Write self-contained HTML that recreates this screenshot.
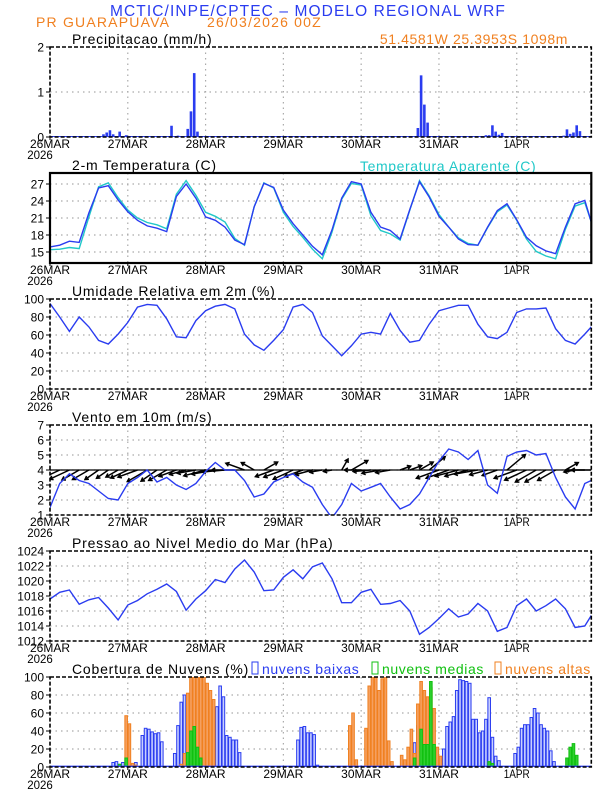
<!DOCTYPE html>
<html><head><meta charset="utf-8"><style>
html,body{margin:0;padding:0;background:#fff;}
svg{display:block;font-family:"Liberation Sans",sans-serif;}
</style></head><body>
<svg id="c" width="612" height="792" viewBox="0 0 612 792">
<text x="308" y="16" text-anchor="middle" font-size="15.5" fill="#2a3cf0" letter-spacing="1.1">MCTIC/INPE/CPTEC – MODELO REGIONAL WRF</text>
<text x="36" y="27" font-size="14" fill="#f08020" letter-spacing="1.2">PR GUARAPUAVA</text>
<text x="207" y="27" font-size="14" fill="#f08020" letter-spacing="1.2">26/03/2026 00Z</text>
<text x="568" y="44" text-anchor="end" font-size="14" fill="#f08020" letter-spacing="0.6">51.4581W 25.3953S 1098m</text>
<text x="360" y="171" font-size="14" fill="#20c8c8" letter-spacing="0.6">Temperatura Aparente (C)</text>
<g id="g"></g>
</svg>
<script>
const hours3 = [0,3,6,9,12,15,18,21,24,27,30,33,36,39,42,45,48,51,54,57,60,63,66,69,72,75,78,81,84,87,90,93,96,99,102,105,108,111,114,117,120,123,126,129,132,135,138,141,144,147,150,153,156,159,162,165,167];
const tempValues = [15.9,16.2,16.9,16.7,21.9,26.3,26.7,24.2,22.1,20.6,19.6,19.2,18.6,24.8,27.0,24.5,21.2,20.6,19.4,17.1,16.3,23.0,27.1,26.4,22.4,20.0,18.0,16.0,14.5,18.9,24.5,27.4,27.0,22.0,19.4,18.8,17.3,22.5,27.4,24.7,21.3,19.4,17.3,16.3,16.2,19.4,22.3,23.5,20.7,17.6,16.1,15.2,14.7,19.4,23.5,24.1,20.3];
const apparentValues = [15.4,15.5,15.8,15.6,21.2,26.5,27.2,24.6,22.4,21.0,20.2,19.8,19.1,25.2,27.6,25.0,22.0,21.3,20.3,17.4,16.2,23.0,27.2,26.3,22.0,19.5,17.6,15.5,13.8,18.5,24.3,27.1,26.8,21.4,18.8,18.2,17.1,22.4,27.6,24.9,21.6,19.4,17.5,16.5,16.2,19.3,22.1,23.3,20.6,17.3,15.1,14.3,13.8,19.0,23.1,23.7,20.3];
const rhValues = [95,80,64,80,69,54,50,61,74,91,94,93,78,58,57,76,87,92,94,89,61,49,43,54,66,91,94,85,59,48,37,48,61,63,61,84,65,52,54,72,87,90,93,93,72,58,56,63,85,89,89,90,67,54,50,61,69];
const windSpeed = [1.5,3.1,3.75,3.3,3.1,2.6,2.1,2.0,3.1,3.5,4.0,3.2,3.5,3.0,2.7,3.1,3.9,4.5,4.0,4.0,3.3,2.2,2.4,3.2,3.5,3.75,3.2,2.85,1.7,0.8,1.7,3.1,2.6,2.85,3.1,2.2,1.4,1.7,2.4,3.5,4.6,5.4,5.2,4.7,5.3,3.0,2.45,4.9,5.2,5.3,5.0,5.1,3.5,2.2,1.4,3.1,3.3];
const arrowDir = [200,205,205,210,210,215,215,210,205,200,210,215,210,200,195,190,195,190,185,180,160,150,30,200,200,205,200,195,190,190,60,30,180,185,190,190,20,20,30,40,200,200,195,195,190,195,200,40,200,205,210,210,210,30,190,180,180];
const pressValues = [1017.6,1018.5,1018.8,1016.9,1017.5,1017.8,1016.4,1014.8,1016.8,1017.4,1018.3,1018.9,1019.6,1018.6,1016.1,1017.6,1018.7,1020.2,1019.8,1021.6,1022.8,1021.2,1018.7,1018.8,1020.5,1021.5,1020.3,1021.9,1022.4,1020.3,1017.1,1017.1,1018.5,1018.9,1016.9,1017.0,1017.4,1016.0,1012.9,1013.8,1015.0,1016.3,1015.2,1015.6,1017.0,1016.0,1013.3,1013.8,1016.7,1017.6,1016.0,1016.7,1017.6,1016.3,1013.8,1014.0,1015.4];
const precipHours = [14,15,16,17,18,19,21,23,37,39,42,43,44,45,112,113,114,115,116,134,135,136,137,138,139,158,159,160,161,162,163];
const precipValues = [0.02,0.02,0.06,0.1,0.15,0.06,0.12,0.04,0.25,0.03,0.18,0.57,1.42,0.12,0.02,0.2,1.37,0.72,0.32,0.04,0.04,0.26,0.12,0.05,0.09,0.03,0.17,0.07,0.1,0.26,0.13];
const lowHours = [19,20,21,22,26,28,29,30,31,32,33,34,38,39,40,41,42,43,49,50,51,52,53,54,55,56,57,58,76,77,78,79,80,81,82,105,112,113,114,115,116,120,121,122,123,124,125,126,127,128,129,130,131,132,133,134,135,136,137,138,143,144,145,146,147,148,149,150,151,152,153,154,155];
const lowValues = [5,6,3,5,5,35,43,42,39,37,38,28,15,46,72,80,35,12,20,50,67,90,78,35,33,30,30,16,30,44,45,38,38,36,2,2,27,46,33,15,10,8,20,45,50,56,85,97,96,95,93,53,53,38,40,53,77,33,12,7,15,22,43,47,47,55,65,60,47,43,40,18,6];
const highHours = [23,24,25,26,40,41,42,43,44,45,46,47,48,49,50,92,93,94,97,98,99,100,101,102,103,104,105,108,109,110,111,112,113,114,115,116,117,118,119,120];
const highValues = [57,48,4,2,3,15,82,100,100,100,100,100,93,85,75,46,60,8,43,90,100,100,85,98,100,29,6,13,8,22,42,15,70,95,85,78,88,65,22,12];
const midHours = [21,23,42,43,44,45,46,112,114,115,116,117,118,135,136,159,160,161,162];
const midValues = [3,10,16,40,45,22,10,10,42,25,25,95,25,6,4,10,22,26,13];
const dayLabels = ["26MAR","27MAR","28MAR","29MAR","30MAR","31MAR","1APR"];
const precipTicks = [0,1,2];
const tempTicks = [15,18,21,24,27];
const rhTicks = [0,20,40,60,80,100];
const windTicks = [1,2,3,4,5,6,7];
const pressTicks = [1012,1014,1016,1018,1020,1022,1024];
const cloudTicks = [0,20,40,60,80,100];

const NS='http://www.w3.org/2000/svg';
const G=document.getElementById('g');
const L=50,R=591.3,HMAX=167;
function X(h){return L+h*(R-L)/HMAX;}
function mk(tag,attrs,parent){const e=document.createElementNS(NS,tag);for(const k in attrs)e.setAttribute(k,attrs[k]);(parent||G).appendChild(e);return e;}
const panels=[
 {title:'Precipitacao (mm/h)',min:0,max:2,ticks:precipTicks,dash:true,name:'precip'},
 {title:'2-m Temperatura (C)',min:13.06,max:28.94,ticks:tempTicks,dash:false,name:'temp'},
 {title:'Umidade Relativa em 2m (%)',min:0,max:100,ticks:rhTicks,dash:true,name:'rh'},
 {title:'Vento em 10m (m/s)',min:1,max:7,ticks:windTicks,dash:true,name:'wind'},
 {title:'Pressao ao Nivel Medio do Mar (hPa)',min:1012,max:1024,ticks:pressTicks,dash:true,name:'pressure'},
 {title:'Cobertura de Nuvens (%)',min:0,max:100,ticks:cloudTicks,dash:true,name:'cloud'}
];
panels.forEach((p,i)=>{
 p.top=47+126*i;p.bot=p.top+90;
 p.Y=v=>p.bot-(v-p.min)/(p.max-p.min)*90;
 const g=mk('g',{});
 
 
 const cp=mk('clipPath',{id:'cp'+i},g);
 mk('rect',{x:L,y:p.top,width:R-L,height:90},cp);
 for(let d=1;d<7;d++){const gl=mk('line',{x1:X(d*24),x2:X(d*24),y1:p.top,y2:p.bot,stroke:'#aaa','stroke-width':1.2,'stroke-dasharray':'1.5 4'},g);
  
  }
 p.ticks.forEach(t=>{
  const y=p.Y(t);
  if(t>p.min&&t<p.max){const gl=mk('line',{x1:L,x2:R,y1:y,y2:y,stroke:'#aaa','stroke-width':1.2,'stroke-dasharray':'1.5 4'},g);
   
   }
  mk('line',{x1:L-4,x2:L,y1:y,y2:y,stroke:'#000'},g);
  const tx=mk('text',{x:L-6,y:y+4.5,'text-anchor':'end','font-size':12},g);
  tx.textContent=t;
  
  
 });
 dayLabels.forEach((d,k)=>{
  const tx=mk('text',{x:X(k*24),y:p.bot+11,'text-anchor':'middle','font-size':11.5,'textLength':k==6?26:40,'lengthAdjust':'spacingAndGlyphs'},g);
  tx.textContent=d;
  
  
  mk('line',{x1:X(k*24),x2:X(k*24),y1:p.bot,y2:p.bot+3,stroke:'#000'},g);
 });
 const yr=mk('text',{x:L-10,y:p.bot+22,'text-anchor':'middle','font-size':11.5},g);
 yr.textContent='2026';
 
 
 const tt=mk('text',{x:72,y:p.top-3,'font-size':14,'letter-spacing':0.8},g);
 tt.textContent=p.title;
 
 
 p.g=mk('g',{'clip-path':'url(#cp'+i+')'},g);
 const fr=mk('rect',{x:L,y:p.top,width:R-L,height:90,fill:'none',stroke:'#000','stroke-width':p.dash?1.6:2.2,'stroke-dasharray':p.dash?'4 2':'none'},g);
 
 
});
function line(p,vals,color,name){
 const d=vals.map((v,k)=>(k?'L':'M')+X(hours3[k]).toFixed(1)+','+p.Y(v).toFixed(1)).join('');
 const e=mk('path',{d:d,fill:'none',stroke:color,'stroke-width':1.4},p.g);
 
 
}
function bars(p,hs,vs,fill,stroke,name){
 hs.forEach((h,k)=>{
  const y=p.Y(vs[k]);
  const e=mk('rect',{x:X(h)+0.3,y:y,width:2.6,height:p.bot-y,fill:fill,stroke:stroke,'stroke-width':stroke=='none'?0:1},p.g);
  
  
 });
}
bars(panels[0],precipHours,precipValues,'#2a3cf0','none','precip-bar');
mk('line',{x1:L,x2:R,y1:panels[0].bot-0.5,y2:panels[0].bot-0.5,stroke:'#2a3cf0','stroke-width':1},panels[0].g);
line(panels[1],apparentValues,'#20c8c8','apparent-temp-line');
line(panels[1],tempValues,'#2a3cf0','temp-line');
line(panels[2],rhValues,'#2a3cf0','rh-line');
const pw=panels[3];
mk('line',{x1:L,x2:R,y1:pw.Y(4),y2:pw.Y(4),stroke:'#000','stroke-width':1.2},pw.g);
hours3.forEach((h,k)=>{
 const x0=X(h),y0=pw.Y(4);
 const len=Math.min(24,4.5*windSpeed[k]+5);
 const a=arrowDir[k]*Math.PI/180;
 const x1=x0+len*Math.cos(a),y1=y0-len*Math.sin(a);
 const e=mk('path',{d:'M'+x0+','+y0+'L'+x1+','+y1+'M'+(x1+4*Math.cos(a+2.6))+','+(y1-4*Math.sin(a+2.6))+'L'+x1+','+y1+'L'+(x1+4*Math.cos(a-2.6))+','+(y1-4*Math.sin(a-2.6)),stroke:'#000','stroke-width':1.5,fill:'none'},pw.g);
 
 
});
line(pw,windSpeed,'#2a3cf0','wind-speed-line');
line(panels[4],pressValues,'#2a3cf0','pressure-line');
const pc=panels[5];
bars(pc,lowHours,lowValues,'#c8d0ff','#2a3cf0','low-cloud-bar');
bars(pc,highHours,highValues,'#f5a060','#f08020','high-cloud-bar');
bars(pc,midHours,midValues,'#30d030','#10c010','mid-cloud-bar');
mk('line',{x1:L,x2:R,y1:pc.bot-0.7,y2:pc.bot-0.7,stroke:'#2a3cf0','stroke-width':1.4},pc.g);
const leg=[[252,'nuvens baixas','#2a3cf0'],[372,'nuvens medias','#10c010'],[495,'nuvens altas','#f08020']];
leg.forEach(l=>{
 const r=mk('rect',{x:l[0],y:662,width:6,height:12,fill:'none',stroke:l[2],'stroke-width':1});
 
 
 const t=mk('text',{x:l[0]+10,y:674,'font-size':14,fill:l[2],'letter-spacing':0.6});
 t.textContent=l[1];
 
 
});
</script>
</body></html>
